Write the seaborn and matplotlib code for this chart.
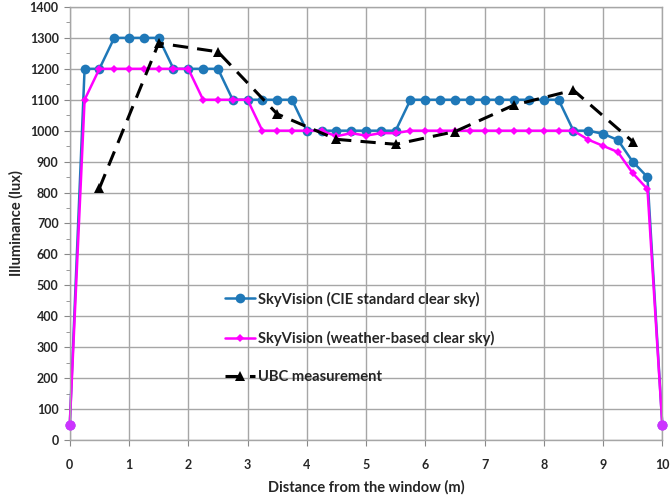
import numpy as np
import pandas as pd
import matplotlib
matplotlib.use('Agg')
import matplotlib.pyplot as plt
import seaborn as sns
from matplotlib.ticker import MultipleLocator

# Data
dist_sky = [0, 0.25, 0.5, 0.75, 1.0, 1.25, 1.5, 1.75, 2.0, 2.25, 2.5, 2.75, 3.0, 3.25, 3.5,
            3.75, 4.0, 4.25, 4.5, 4.75, 5.0, 5.25, 5.5, 5.75, 6.0, 6.25, 6.5, 6.75, 7.0,
            7.25, 7.5, 7.75, 8.0, 8.25, 8.5, 8.75, 9.0, 9.25, 9.5, 9.75, 10]
cie_clear = [50, 1200, 1200, 1300, 1300, 1300, 1300, 1200, 1200, 1200, 1200, 1100, 1100, 1100, 1100,
             1100, 1000, 1000, 1000, 1000, 1000, 1000, 1000, 1100, 1100, 1100, 1100, 1100, 1100,
             1100, 1100, 1100, 1100, 1100, 1000, 1000, 990, 970, 900, 850, 50]
weather_clear = [50, 1100, 1200, 1200, 1200, 1200, 1200, 1200, 1200, 1100, 1100, 1100, 1100, 1000, 1000,
                 1000, 1000, 1000, 982, 992, 984, 992, 992, 1000, 1000, 1000, 1000, 1000, 1000,
                 1000, 1000, 1000, 1000, 1000, 1000, 971, 951, 931, 863, 811, 50]
dist_ubc = [0.5, 1.5, 2.5, 3.5, 4.5, 5.5, 6.5, 7.5, 8.5, 9.5]
ubc_meas = [814, 1283, 1255, 1054, 972, 956, 997, 1083, 1131, 965]

labels = ['SkyVision (CIE standard clear sky)',
          'SkyVision (weather-based clear sky)',
          'UBC measurement']

sns.set_style('white')
plt.rcParams['font.family'] = ['Lato', 'DejaVu Sans']
plt.rcParams['font.weight'] = 'bold'

fig = plt.figure(figsize=(6.71, 4.95), dpi=100)
ax = fig.add_axes([0.104, 0.111, 0.883, 0.875])

sns.lineplot(x=dist_sky, y=cie_clear, ax=ax, color='#1f78b8', marker='o', markersize=7,
             markeredgewidth=0, linewidth=1.8, sort=False, label=labels[0], clip_on=False)
sns.lineplot(x=dist_sky, y=weather_clear, ax=ax, color='#ff00ff', marker='D', markersize=4.5,
             markeredgewidth=0, linewidth=1.8, sort=False, label=labels[1], clip_on=False)
sns.lineplot(x=dist_ubc, y=ubc_meas, ax=ax, color='black', marker='^', markersize=7,
             markeredgewidth=0, linewidth=2.2, sort=False, label=labels[2])
ax.lines[2].set_dashes([5, 3])

# end points of the simulated series are drawn as violet dots in the reference
ax.scatter([dist_sky[0], dist_sky[-1]], [weather_clear[0], weather_clear[-1]],
           s=55, color='#cc33ff', zorder=5, clip_on=False, linewidths=0)

ax.set_xlim(0, 10)
ax.set_ylim(0, 1400)
ax.xaxis.set_major_locator(MultipleLocator(1))
ax.yaxis.set_major_locator(MultipleLocator(100))
ax.yaxis.set_minor_locator(MultipleLocator(50))
ax.grid(True, which='major', color='#a6a6a6', linewidth=1)
ax.tick_params(axis='both', which='major', direction='out', length=4, color='#888888',
               labelsize=9, pad=4, left=True, bottom=True)
ax.tick_params(axis='y', which='minor', direction='out', length=3, color='#888888', left=True)
ax.tick_params(axis='x', pad=10)
for lab in ax.get_xticklabels() + ax.get_yticklabels():
    lab.set_fontweight('bold')
for s in ax.spines.values():
    s.set_color('#a6a6a6')
    s.set_linewidth(1)

ax.set_xlabel('Distance from the window (m)', fontsize=10.5, fontweight='bold', labelpad=6)
ax.set_ylabel('Illuminance (lux)', fontsize=10.5, fontweight='bold', labelpad=4)

leg = ax.legend(loc='center left', bbox_to_anchor=(0.24, 0.236), frameon=False,
                fontsize=10.6, labelspacing=1.65, handlelength=2.0, handletextpad=0.2)
for t in leg.get_texts():
    t.set_fontweight('bold')

fig.savefig('out.png', dpi=100)
